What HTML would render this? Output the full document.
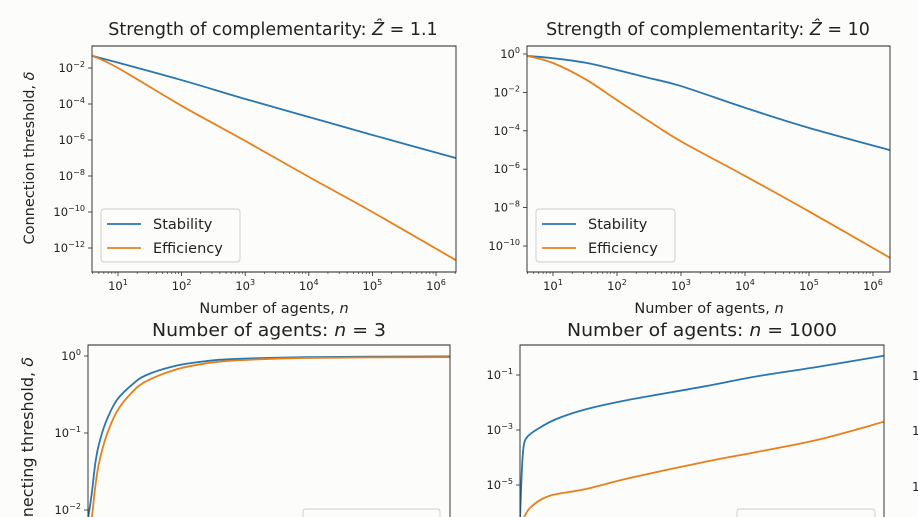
<!DOCTYPE html>
<html><head><meta charset="utf-8"><style>
html,body{margin:0;padding:0;background:#fcfcfa;width:918px;height:517px;overflow:hidden;}
svg{display:block;font-family:"DejaVu Sans","Liberation Sans",sans-serif;overflow:hidden;}
</style></head><body>
<svg id="fig" width="918" height="517" viewBox="0 0 918 517" xmlns="http://www.w3.org/2000/svg">
<rect width="918" height="517" fill="#fcfcfa"/>
</svg>
<script>
// Panel 1 (Z=1.1) data: x = log10(n), y = log10(delta)
const p1X = [0.6, 1, 2, 3, 4, 5, 6.31];
const p1Stab = [-1.33, -1.7, -2.67, -3.72, -4.72, -5.72, -7.0];
const p1Eff = [-1.33, -2.0, -4.1, -6.05, -8.05, -10.0, -12.67];
// Panel 2 (Z=10)
const p2X = [0.6, 1, 1.5, 2, 2.5, 3, 4, 5, 6.31];
const p2Stab = [-0.1, -0.22, -0.45, -0.83, -1.25, -1.67, -2.8, -3.85, -5.05];
const p2Eff = [-0.1, -0.47, -1.3, -2.4, -3.5, -4.55, -6.35, -8.2, -10.7];
// Panel 3 (n=3), x = parameter 0..100 linear
const p3X = [0, 1, 2, 3, 5, 8, 12, 16, 24, 32, 40, 60, 100];
const p3Stab = [-2.5, -1.8, -1.4, -1.15, -0.85, -0.57, -0.38, -0.25, -0.13, -0.07, -0.04, -0.015, -0.005];
const p3Eff = [-2.5, -2.1, -1.7, -1.4, -1.05, -0.72, -0.48, -0.33, -0.18, -0.1, -0.06, -0.025, -0.015];
// Panel 4 (n=1000)
const p4X = [0, 0.5, 1, 2, 5, 10, 18, 30, 50, 65, 82, 100];
const p4Stab = [-6.5, -4.5, -3.6, -3.25, -2.95, -2.6, -2.25, -1.9, -1.43, -1.05, -0.7, -0.3];
const p4XE = [1, 3, 8, 18, 30, 50, 65, 82, 100];
const p4Eff = [-6.2, -5.8, -5.4, -5.15, -4.75, -4.18, -3.8, -3.35, -2.7];
const decTicksTop = [1, 2, 3, 4, 5, 6];
const p1YTicks = [-2, -4, -6, -8, -10, -12];
const p2YTicks = [0, -2, -4, -6, -8, -10];
const p3YTicks = [0, -1, -2];
const p4YTicks = [-1, -3, -5];

const NS = "http://www.w3.org/2000/svg";
const svg = document.getElementById('fig');
const BLUE = "#2a76b0", ORANGE = "#e8801a";
function el(tag, attrs, parent) {
  const e = document.createElementNS(NS, tag);
  for (const k in attrs) e.setAttribute(k, attrs[k]);
  (parent || svg).appendChild(e);
  return e;
}
function lin(d0, d1, r0, r1) { return v => r0 + (v - d0) * (r1 - r0) / (d1 - d0); }

function supLabel(g, x, y, exp, anchor, size) {
  const t = el('text', {x: x, y: y, 'font-size': size, 'text-anchor': anchor, fill: '#222'}, g);
  
  
  const a = el('tspan', {}, t); a.textContent = '10';
  const b = el('tspan', {dy: -5, 'font-size': size * 0.7}, t);
  b.textContent = (exp < 0 ? '\u2212' : '') + Math.abs(exp);
  return t;
}
function smoothPath(pts) {
  let d = 'M' + pts[0][0].toFixed(2) + ',' + pts[0][1].toFixed(2);
  for (let i = 0; i < pts.length - 1; i++) {
    const p0 = pts[i - 1] || pts[i], p1 = pts[i], p2 = pts[i + 1], p3 = pts[i + 2] || p2;
    const c1 = [p1[0] + (p2[0] - p0[0]) / 6, p1[1] + (p2[1] - p0[1]) / 6];
    const c2 = [p2[0] - (p3[0] - p1[0]) / 6, p2[1] - (p3[1] - p1[1]) / 6];
    c1[0] = Math.min(Math.max(c1[0], p1[0]), p2[0]); c2[0] = Math.min(Math.max(c2[0], p1[0]), p2[0]);
    d += 'C' + c1.map(v => v.toFixed(2)).join(',') + ' ' + c2.map(v => v.toFixed(2)).join(',') + ' ' + p2[0].toFixed(2) + ',' + p2[1].toFixed(2);
  }
  return d;
}

function panel(name, box, xs, ys, series, yTicks, xTicks, clipId) {
  const g = el('g', {});
  
  
  const cp = el('clipPath', {id: clipId}, g);
  el('rect', {x: box.x0, y: box.y0, width: box.x1 - box.x0, height: box.y1 - box.y0}, cp);
  const sg = el('g', {'clip-path': 'url(#' + clipId + ')'}, g);
  series.forEach(s => {
    const pts = s.x.map((v, i) => [xs(v), Math.min(ys(s.y[i]), box.y1 + 2)]);
    const p = el('path', {d: smoothPath(pts), fill: 'none', stroke: s.c, 'stroke-width': 1.8}, sg);
    
    
  });
  yTicks.forEach(t => {
    const y = ys(t);
    el('line', {x1: box.x0 - 4, x2: box.x0, y1: y, y2: y, stroke: '#222', 'stroke-width': 0.8}, g);
    supLabel(g, box.x0 - 7, y + 4, t, 'end', 11.5);
  });
  if (xTicks) {
    xTicks.forEach(t => {
      const x = xs(t);
      el('line', {x1: x, x2: x, y1: box.y1, y2: box.y1 + 4, stroke: '#222', 'stroke-width': 0.8}, g);
      supLabel(g, x, box.y1 + 18, t, 'middle', 11.5);
      for (let m = 2; m <= 9; m++) {
        const mx = xs(t - 1 + Math.log10(m));
        if (mx >= box.x0) el('line', {x1: mx, x2: mx, y1: box.y1, y2: box.y1 + 2, stroke: '#222', 'stroke-width': 0.6}, g);
        const mx2 = xs(t + Math.log10(m));
        if (t === 6 && mx2 <= box.x1) el('line', {x1: mx2, x2: mx2, y1: box.y1, y2: box.y1 + 2, stroke: '#222', 'stroke-width': 0.6}, g);
      }
    });
  }
  const d = box.open
    ? `M${box.x0},${box.y1}V${box.y0}H${box.x1}V${box.y1}`
    : `M${box.x0},${box.y0}H${box.x1}V${box.y1}H${box.x0}Z`;
  const fr = el('path', {d: d, fill: 'none', stroke: '#222', 'stroke-width': 0.9}, g);
  
  
  return g;
}

function legend(x, y, w) {
  const g = el('g', {});
  
  
  el('rect', {x: x, y: y, width: w, height: 53, rx: 3, fill: '#fcfcfa', stroke: '#ccc', 'stroke-width': 0.9}, g);
  [['Stability', BLUE, 15], ['Efficiency', ORANGE, 39]].forEach(([t, c, dy]) => {
    const e = el('g', {}, g);
    
    
    el('line', {x1: x + 6, x2: x + 40, y1: y + dy, y2: y + dy, stroke: c, 'stroke-width': 1.8}, e);
    const tx = el('text', {x: x + 52, y: y + dy + 5, 'font-size': 14.5, fill: '#222'}, e);
    tx.textContent = t;
  });
}
function cutLegend(x, y, w) {
  const g = el('g', {});
  
  
  const p = el('path', {d: `M${x},517V${y + 3}Q${x},${y} ${x + 3},${y}H${x + w - 3}Q${x + w},${y} ${x + w},${y + 3}V517`, fill: '#fcfcfa', stroke: '#ccc', 'stroke-width': 0.9}, g);
}
function text(str, attrs, name) {
  const t = el('text', Object.assign({fill: '#222'}, attrs));
  t.textContent = str;
  
  
  return t;
}

// Panel 1
const b1 = {x0: 92, x1: 456, y0: 46, y1: 272};
const xs1 = lin(1, 6, 118, 436), ys1 = lin(-2, -12, 68, 248);
panel('panel-z-1-1', b1, xs1, ys1, [{x: p1X, y: p1Stab, c: BLUE, n: 'stability-line'}, {x: p1X, y: p1Eff, c: ORANGE, n: 'efficiency-line'}], p1YTicks, decTicksTop, 'c1');
legend(101, 209, 139);
const t1 = text('', {x: 273, y: 35, 'font-size': 17.5, 'text-anchor': 'middle'}, 'chart-title-1');
t1.innerHTML = 'Strength of complementarity: <tspan font-style="italic">Ẑ</tspan> = 1.1';
// Panel 2
const b2 = {x0: 527, x1: 890, y0: 46, y1: 272};
const xs2 = lin(1, 6, 553, 873), ys2 = lin(0, -10, 54, 246);
panel('panel-z-10', b2, xs2, ys2, [{x: p2X, y: p2Stab, c: BLUE, n: 'stability-line'}, {x: p2X, y: p2Eff, c: ORANGE, n: 'efficiency-line'}], p2YTicks, decTicksTop, 'c2');
legend(536, 209, 139);
const t2 = text('', {x: 708, y: 35, 'font-size': 17.5, 'text-anchor': 'middle'}, 'chart-title-2');
t2.innerHTML = 'Strength of complementarity: <tspan font-style="italic">Ẑ</tspan> = 10';
text('', {x: 274, y: 313, 'font-size': 14.5, 'text-anchor': 'middle'}, 'x-axis-title-1').innerHTML = 'Number of agents, <tspan font-style="italic">n</tspan>';
text('', {x: 709, y: 313, 'font-size': 14.5, 'text-anchor': 'middle'}, 'x-axis-title-2').innerHTML = 'Number of agents, <tspan font-style="italic">n</tspan>';
text('', {transform: 'translate(34,158) rotate(-90)', 'font-size': 14.5, 'text-anchor': 'middle'}, 'y-axis-title-1').innerHTML = 'Connection threshold, <tspan font-style="italic">δ</tspan>';

// Panel 3
const b3 = {x0: 88, x1: 450, y0: 345, y1: 517, open: true};
const xs3 = lin(0, 100, 88, 450), ys3 = lin(0, -1, 356, 433);
panel('panel-n-3', b3, xs3, ys3, [{x: p3X, y: p3Stab, c: BLUE, n: 'stability-line'}, {x: p3X, y: p3Eff, c: ORANGE, n: 'efficiency-line'}], p3YTicks, null, 'c3');
cutLegend(303, 509, 137);
text('', {x: 269, y: 336, 'font-size': 17.5, 'text-anchor': 'middle', textLength: 234, lengthAdjust: 'spacingAndGlyphs'}, 'chart-title-3').innerHTML = 'Number of agents: <tspan font-style="italic">n</tspan> = 3';
// Panel 4
const b4 = {x0: 520, x1: 884, y0: 345, y1: 517, open: true};
const xs4 = lin(0, 100, 520, 884), ys4 = lin(-1, -3, 375, 430);
panel('panel-n-1000', b4, xs4, ys4, [{x: p4X, y: p4Stab, c: BLUE, n: 'stability-line'}, {x: p4XE, y: p4Eff, c: ORANGE, n: 'efficiency-line'}], p4YTicks, null, 'c4');
cutLegend(737, 509, 138);
text('', {x: 702, y: 336, 'font-size': 17.5, 'text-anchor': 'middle', textLength: 270, lengthAdjust: 'spacingAndGlyphs'}, 'chart-title-4').innerHTML = 'Number of agents: <tspan font-style="italic">n</tspan> = 1000';
text('', {transform: 'translate(33,357) rotate(-90)', 'font-size': 16, 'text-anchor': 'end'}, 'y-axis-title-2').innerHTML = 'necting threshold, <tspan font-style="italic">δ</tspan>';
[375, 430, 486].forEach((y, i) => {
  text('1', {x: 912, y: y + 5, 'font-size': 12}, 'cut-tick-label');
});
</script>
</body></html>
